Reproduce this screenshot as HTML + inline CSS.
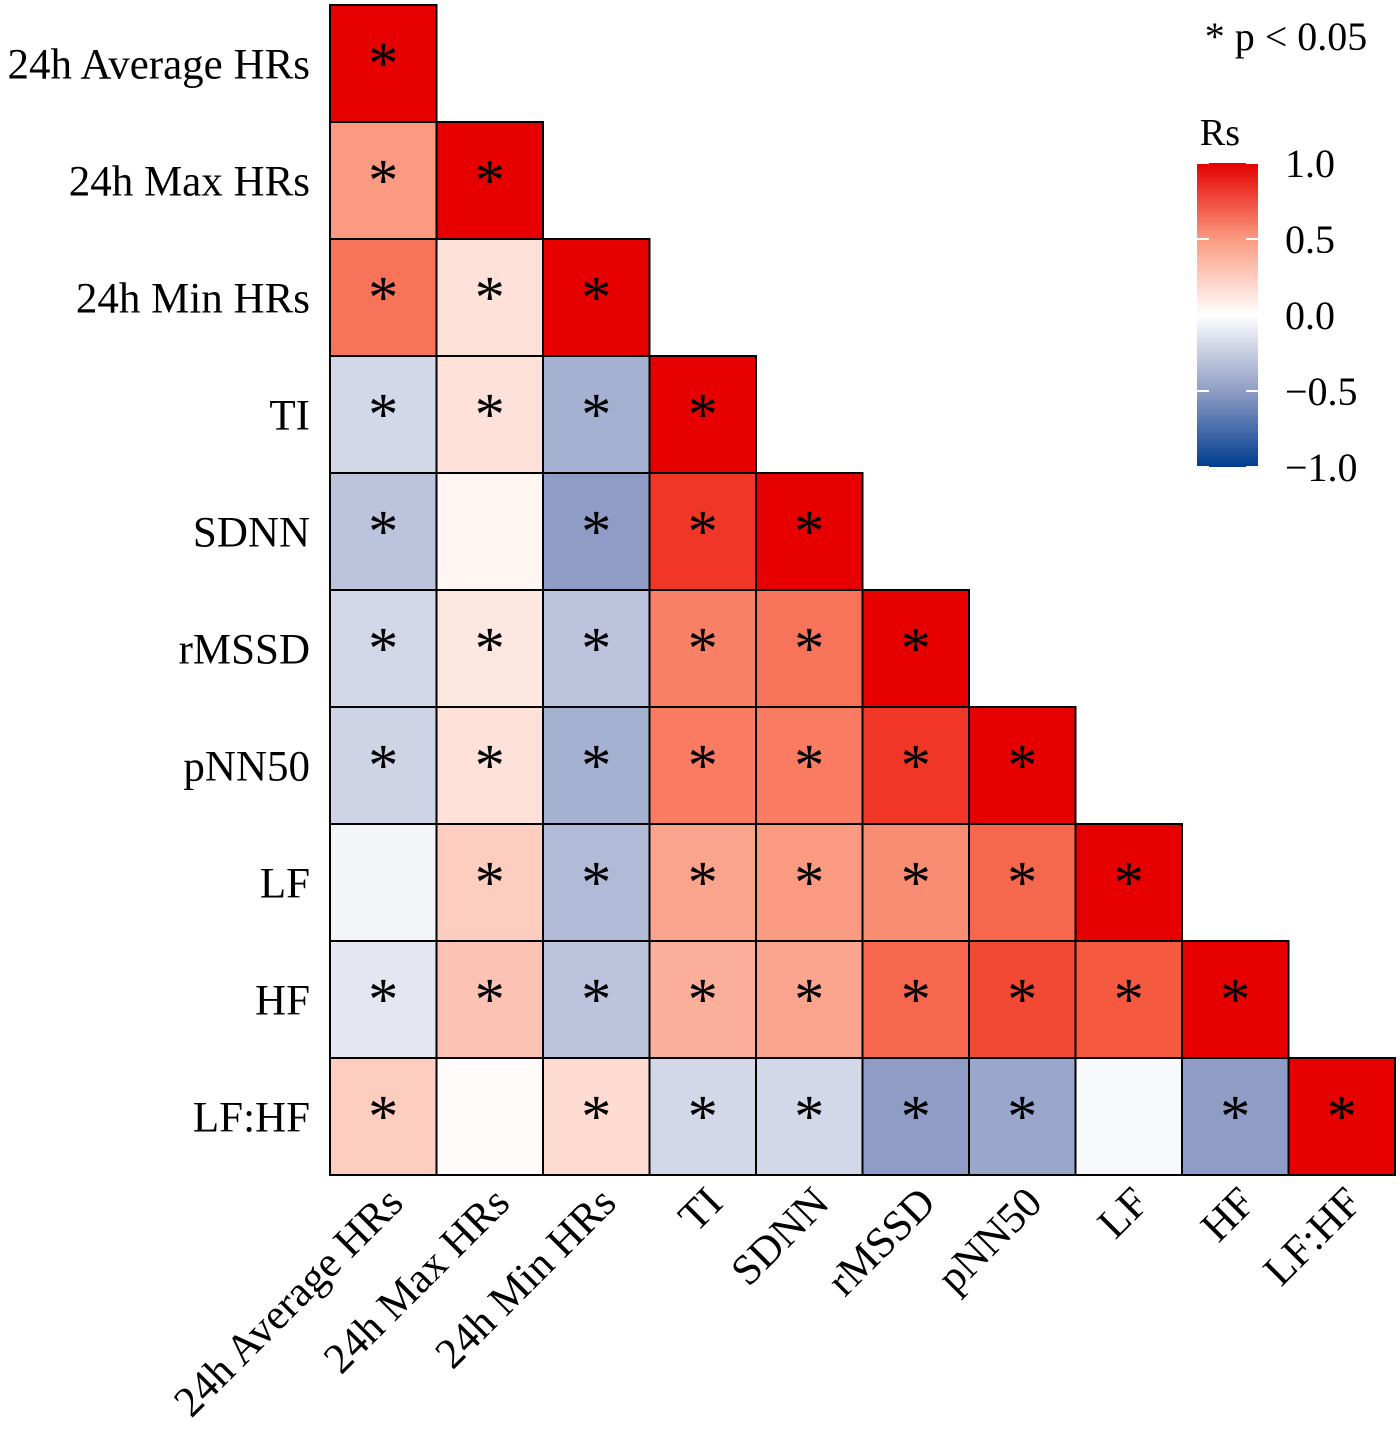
<!DOCTYPE html>
<html><head><meta charset="utf-8"><style>
html,body{margin:0;padding:0;background:#fff;}
svg{display:block;font-family:"Liberation Serif",serif;}
</style></head><body>
<svg id="chart" width="1400" height="1437" viewBox="0 0 1400 1437" xmlns="http://www.w3.org/2000/svg">
<defs>
<linearGradient id="cbar" x1="0" y1="1" x2="0" y2="0">
<stop offset="0" stop-color="#003c8f"/><stop offset="0.25" stop-color="#8f9dc6"/><stop offset="0.5" stop-color="#ffffff"/><stop offset="0.75" stop-color="#fa9a80"/><stop offset="1" stop-color="#e60000"/>
</linearGradient>
</defs>
<g id="cells"></g>
<g id="ylabels"></g>
<g id="xlabels"></g>
<text x="1286" y="50" font-size="40" text-anchor="middle">* p &lt; 0.05</text>
<text x="1220" y="145" font-size="38" text-anchor="middle">Rs</text>
<rect x="1197" y="163" width="61" height="304" fill="url(#cbar)"/>
<g id="cbticks"></g>
</svg>
<script>
const labels = ["24h Average HRs","24h Max HRs","24h Min HRs","TI","SDNN","rMSSD","pNN50","LF","HF","LF:HF"];
const values = [
 [1],
 [0.5,1],
 [0.65,0.15,1],
 [-0.2,0.15,-0.4,1],
 [-0.3,0.05,-0.5,0.85,1],
 [-0.2,0.12,-0.3,0.6,0.65,1],
 [-0.22,0.15,-0.4,0.62,0.62,0.85,1],
 [-0.05,0.25,-0.35,0.45,0.5,0.55,0.7,1],
 [-0.12,0.3,-0.3,0.4,0.45,0.7,0.8,0.75,1],
 [0.25,0.02,0.18,-0.2,-0.2,-0.5,-0.45,-0.03,-0.5,1]
];
const significant = [
 [1],
 [1,1],
 [1,1,1],
 [1,1,1,1],
 [1,0,1,1,1],
 [1,1,1,1,1,1],
 [1,1,1,1,1,1,1],
 [0,1,1,1,1,1,1,1],
 [1,1,1,1,1,1,1,1,1],
 [1,0,1,1,1,1,1,0,1,1]
];
const cbTicks = [1.0,0.5,0.0,-0.5,-1.0];
const cbTickLabels = ["1.0","0.5","0.0","\u22120.5","\u22121.0"];

const NS="http://www.w3.org/2000/svg";
const x0=330,y0=5,cw=106.5,ch=117;
const xPos=i=>x0+i*cw, yPos=j=>y0+j*ch;
const stops=[[-1,[0,60,143]],[-0.5,[143,157,198]],[0,[255,255,255]],[0.5,[250,154,128]],[0.75,[245,90,65]],[1,[230,0,0]]];
function color(v){
  for(let k=0;k<stops.length-1;k++){
    const [a,ca]=stops[k],[b,cb]=stops[k+1];
    if(v>=a&&v<=b){const t=(v-a)/(b-a);const c=ca.map((x,i)=>Math.round(x+(cb[i]-x)*t));return `rgb(${c[0]},${c[1]},${c[2]})`;}
  }
  return 'rgb(230,0,0)';
}
const cells=document.getElementById('cells');
values.forEach((row,j)=>{
  row.forEach((v,i)=>{
    const r=document.createElementNS(NS,'rect');
    r.setAttribute('x',xPos(i));r.setAttribute('y',yPos(j));
    r.setAttribute('width',cw);r.setAttribute('height',ch);
    r.setAttribute('fill',color(v));r.setAttribute('stroke','#000');r.setAttribute('stroke-width','2');
    
    
    cells.appendChild(r);
    if(significant[j][i]){
      const t=document.createElementNS(NS,'text');
      t.setAttribute('x',xPos(i)+cw/2);t.setAttribute('y',yPos(j)+ch/2+20);
      t.setAttribute('text-anchor','middle');t.setAttribute('font-size','60');
      t.textContent='*';
      
      
      cells.appendChild(t);
    }
  });
});
const yl=document.getElementById('ylabels'), xl=document.getElementById('xlabels');
labels.forEach((l,k)=>{
  const t=document.createElementNS(NS,'text');
  t.setAttribute('x',310);t.setAttribute('y',yPos(k)+ch/2+15);
  t.setAttribute('text-anchor','end');t.setAttribute('font-size','43');
  t.textContent=l;
  
  
  yl.appendChild(t);
  const u=document.createElementNS(NS,'text');
  const ax=xPos(k)+cw/2+22, ay=1205;
  u.setAttribute('x',ax);u.setAttribute('y',ay);
  u.setAttribute('text-anchor','end');u.setAttribute('font-size','43');
  u.setAttribute('transform',`rotate(-45 ${ax} ${ay})`);
  u.textContent=l;
  
  
  xl.appendChild(u);
});
const cb=document.getElementById('cbticks');
const cbY=v=>467-(v+1)/2*304;
cbTicks.forEach((v,k)=>{
  [1197,1246].forEach(x=>{
    const ln=document.createElementNS(NS,'line');
    ln.setAttribute('x1',x);ln.setAttribute('x2',x+12);
    ln.setAttribute('y1',cbY(v));ln.setAttribute('y2',cbY(v));
    ln.setAttribute('stroke','#fff');ln.setAttribute('stroke-width','2');
    
    
    cb.appendChild(ln);
  });
  const t=document.createElementNS(NS,'text');
  t.setAttribute('x',1285);t.setAttribute('y',cbY(v)+14);
  t.setAttribute('font-size','40');
  t.textContent=cbTickLabels[k];
  
  
  cb.appendChild(t);
});
</script>
</body></html>
